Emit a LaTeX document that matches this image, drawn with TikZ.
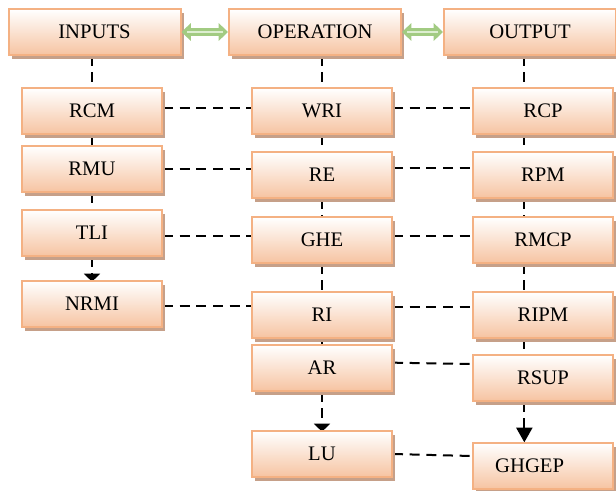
\documentclass[tikz,border=0pt]{standalone}
\usepackage{fontspec}
\setmainfont{Liberation Serif}
\usetikzlibrary{arrows.meta,shadows,backgrounds}

\definecolor{boxline}{HTML}{F4B183}
\definecolor{boxfill}{HTML}{F6C4A2}
\definecolor{boxshadow}{HTML}{C6A089}
\definecolor{arrowline}{HTML}{A2CB82}
\definecolor{arrowfill}{HTML}{DDEED0}

\begin{document}
\begin{tikzpicture}[x=0.75pt,y=-0.75pt,
  box/.style={draw=boxline, line width=1.5pt, top color=white, bottom color=boxfill,
    minimum width=105pt, minimum height=34pt, inner sep=0pt,
    font=\fontsize{15.5}{18}\selectfont,
    drop shadow={shadow xshift=2.5pt, shadow yshift=-3pt, fill=boxshadow, opacity=1}},
  headbox/.style={box, minimum width=129pt},
  link/.style={black, line width=1.5pt, dash pattern=on 7.5pt off 5pt},
  dual/.style={arrowline, line width=6pt, {Triangle[width=13pt,length=7pt]}-{Triangle[width=13pt,length=7pt]}},
  dualin/.style={arrowfill, line width=2pt, shorten <=4pt, shorten >=4pt}]

% 画布大小
\useasboundingbox (0,0) rectangle (616,490);

% 标题框
\node[headbox] (inputs) at (94.5,32) {INPUTS};
\node[headbox] (operation) at (315,32) {OPERATION};
\node[headbox] (output) at (530,32) {OUTPUT};

% 左列
\node[box] (rcm) at (92,111) {RCM};
\node[box] (rmu) at (92,169) {RMU};
\node[box] (tli) at (92,233) {TLI};
\node[box] (nrmi) at (92,304) {NRMI};

% 中列
\node[box] (wri) at (322,111) {WRI};
\node[box] (re) at (322,175) {RE};
\node[box] (ghe) at (322,240) {GHE};
\node[box] (ri) at (322,315) {RI};
\node[box] (ar) at (322,368) {AR};
\node[box] (lu) at (322,454) {LU};

% 右列
\node[box] (rcp) at (543,111) {RCP};
\node[box] (rpm) at (543,175) {RPM};
\node[box] (rmcp) at (543,240) {RMCP};
\node[box] (ripm) at (543,315) {RIPM};
\node[box] (rsup) at (543,378) {RSUP};
\node[box] (ghgep) at (543,466) {\hspace*{-20pt}GHGEP};

% 双向箭头
\draw[dual] (inputs.east) -- (operation.west);
\draw[dualin] (inputs.east) -- (operation.west);
\draw[dual] (operation.east) -- (output.west);
\draw[dualin] (operation.east) -- (output.west);

\begin{scope}[on background layer]
% 竖直虚线
\draw[link] (rcm.north |- inputs.south) -- (rcm.north);
\draw[link] (rcm.south) -- (rmu.north);
\draw[link] (rmu.south) -- (tli.north);
\draw[link,-{Triangle[width=12pt,length=6pt]}] (tli.south) -- ([yshift=-1pt]nrmi.north);

\draw[link] (wri.north |- operation.south) -- (wri.north);
\draw[link] (wri.south) -- (re.north);
\draw[link] (re.south) -- (ghe.north);
\draw[link] (ghe.south) -- (ri.north);
\draw[link] (ri.south) -- (ar.north);
\draw[link,-{Triangle[width=12pt,length=6pt]}] (ar.south) -- ([yshift=-1pt]lu.north);

\draw[link] ([xshift=-14pt]rcp.north |- output.south) -- ([xshift=-14pt]rcp.north);
\draw[link] ([xshift=-14pt]rcp.south) -- ([xshift=-14pt]rpm.north);
\draw[link] ([xshift=-14pt]rpm.south) -- ([xshift=-14pt]rmcp.north);
\draw[link] ([xshift=-14pt]rmcp.south) -- ([xshift=-14pt]ripm.north);
\draw[link] ([xshift=-14pt]ripm.south) -- ([xshift=-14pt]rsup.north);
\draw[link,-{Triangle[width=12pt,length=11pt]}] ([xshift=-14pt]rsup.south) -- ([xshift=-14pt]ghgep.north);

% 水平虚线
\draw[link] ([yshift=2pt]rcm.east) -- ([yshift=2pt]rcm.east -| wri.west);
\draw[link] ([yshift=2pt]wri.east) -- ([yshift=2pt]wri.east -| rcp.west);
\draw[link] (rmu.east) -- (rmu.east -| re.west);
\draw[link] ([yshift=5pt]re.east) -- ([yshift=5pt]re.east -| rpm.west);
\draw[link] ([yshift=-2pt]tli.east) -- ([yshift=-2pt]tli.east -| ghe.west);
\draw[link] ([yshift=3pt]ghe.east) -- ([yshift=3pt]ghe.east -| rmcp.west);
\draw[link] ([yshift=-1.5pt]nrmi.east) -- ([yshift=-1.5pt]nrmi.east -| ri.west);
\draw[link] ([yshift=6pt]ri.east) -- ([yshift=6pt]ri.east -| ripm.west);
\draw[link] ([yshift=4pt]ar.east) -- ([yshift=10.5pt]rsup.west);
\draw[link] (lu.east) -- ([yshift=7.5pt]ghgep.west);
\end{scope}

\end{tikzpicture}
\end{document}
